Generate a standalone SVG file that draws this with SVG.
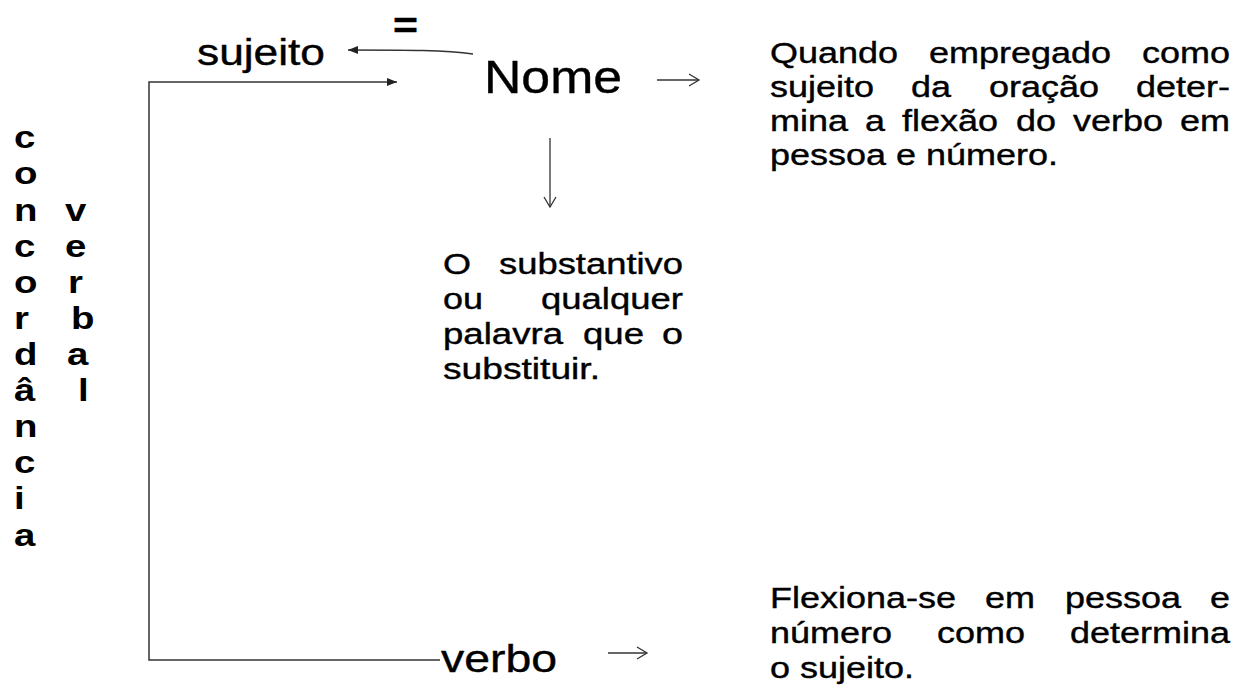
<svg xmlns="http://www.w3.org/2000/svg" width="1237" height="699" viewBox="0 0 1237 699">
<style>
  .t { font-family: "Liberation Sans", Arial, sans-serif; fill: #000; stroke: #000; stroke-width: 0.4; }
  .b { font-family: "Liberation Sans", Arial, sans-serif; font-weight: bold; font-size: 32px; fill: #000; }
  .body { font-size: 30px; }
  .conn { fill: none; stroke: #333; stroke-width: 1.5; }
  .thin { fill: none; stroke: #333; stroke-width: 1.3; }
</style>
<defs>
  <marker id="fill" markerUnits="userSpaceOnUse" markerWidth="12" markerHeight="10" refX="10" refY="4" orient="auto">
    <path d="M0,0 L10,4 L0,8 Z" fill="#222"/>
  </marker>
  <marker id="open" markerUnits="userSpaceOnUse" markerWidth="14" markerHeight="14" refX="11" refY="7" orient="auto">
    <path d="M1,1 L11,7 L1,13" fill="none" stroke="#333" stroke-width="1.3"/>
  </marker>
</defs>
<rect width="1237" height="699" fill="#fff"/>

<g id="connectors">
  <path class="conn" d="M440,660 L149,660 L149,82 L397,82" marker-end="url(#fill)"/>
  <path class="conn" d="M473,54 C445,50 410,50 348,50" marker-end="url(#fill)"/>
  <path class="thin" d="M657,80 L699,80" marker-end="url(#open)"/>
  <path class="thin" d="M550,138 L550,207" marker-end="url(#open)"/>
  <path class="thin" d="M608,653 L647,653" marker-end="url(#open)"/>
</g>

<g id="concordancia">
  <g transform="translate(14,0) scale(1.2,1)">
    <text class="b" x="0" y="148">c</text>
    <text class="b" x="0" y="184">o</text>
    <text class="b" x="0" y="221">n</text>
    <text class="b" x="0" y="257">c</text>
    <text class="b" x="0" y="293">o</text>
    <text class="b" x="0" y="329">r</text>
    <text class="b" x="0" y="365">d</text>
    <text class="b" x="0" y="401">â</text>
    <text class="b" x="0" y="437">n</text>
    <text class="b" x="0" y="473">c</text>
    <text class="b" x="0" y="509">i</text>
    <text class="b" x="0" y="546">a</text>
  </g>
</g>
<g id="verbal">
  <text class="b" x="65" y="221" transform="translate(65,0) scale(1.2,1) translate(-65,0)">v</text>
  <text class="b" x="65" y="257" transform="translate(65,0) scale(1.2,1) translate(-65,0)">e</text>
  <text class="b" x="68" y="293" transform="translate(68,0) scale(1.2,1) translate(-68,0)">r</text>
  <text class="b" x="71" y="329" transform="translate(71,0) scale(1.2,1) translate(-71,0)">b</text>
  <text class="b" x="67" y="365" transform="translate(67,0) scale(1.2,1) translate(-67,0)">a</text>
  <text class="b" x="78" y="401" transform="translate(78,0) scale(1.2,1) translate(-78,0)">l</text>
</g>

<g id="igual">
  <text class="t" x="393" y="38" font-size="36" font-weight="bold" textLength="25" lengthAdjust="spacingAndGlyphs">=</text>
</g>
<g id="sujeito">
  <text class="t" x="197" y="65" font-size="36" textLength="128" lengthAdjust="spacingAndGlyphs">sujeito</text>
</g>
<g id="nome">
  <text class="t" x="484" y="93" font-size="46" textLength="138" lengthAdjust="spacingAndGlyphs">Nome</text>
</g>
<g id="verbo">
  <text class="t" x="441" y="672" font-size="39" textLength="116" lengthAdjust="spacingAndGlyphs">verbo</text>
</g>

<g id="substantivo" class="t body">
  <text x="443" y="274" textLength="28" lengthAdjust="spacingAndGlyphs">O</text>
  <text x="499" y="274" textLength="184" lengthAdjust="spacingAndGlyphs">substantivo</text>
  <text x="443" y="309" textLength="40" lengthAdjust="spacingAndGlyphs">ou</text>
  <text x="541" y="309" textLength="142" lengthAdjust="spacingAndGlyphs">qualquer</text>
  <text x="443" y="344" textLength="120" lengthAdjust="spacingAndGlyphs">palavra</text>
  <text x="583" y="344" textLength="61" lengthAdjust="spacingAndGlyphs">que</text>
  <text x="662" y="344" textLength="21" lengthAdjust="spacingAndGlyphs">o</text>
  <text x="443" y="379" textLength="157" lengthAdjust="spacingAndGlyphs">substituir.</text>
</g>

<g id="nome-desc" class="t body">
  <text x="770" y="63" textLength="128" lengthAdjust="spacingAndGlyphs">Quando</text>
  <text x="929" y="63" textLength="182" lengthAdjust="spacingAndGlyphs">empregado</text>
  <text x="1142" y="63" textLength="88" lengthAdjust="spacingAndGlyphs">como</text>
  <text x="770" y="97" textLength="104" lengthAdjust="spacingAndGlyphs">sujeito</text>
  <text x="911" y="97" textLength="40" lengthAdjust="spacingAndGlyphs">da</text>
  <text x="989" y="97" textLength="110" lengthAdjust="spacingAndGlyphs">oração</text>
  <text x="1136" y="97" textLength="94" lengthAdjust="spacingAndGlyphs">deter-</text>
  <text x="770" y="131" textLength="78" lengthAdjust="spacingAndGlyphs">mina</text>
  <text x="865" y="131" textLength="20" lengthAdjust="spacingAndGlyphs">a</text>
  <text x="902" y="131" textLength="96" lengthAdjust="spacingAndGlyphs">flexão</text>
  <text x="1016" y="131" textLength="40" lengthAdjust="spacingAndGlyphs">do</text>
  <text x="1073" y="131" textLength="90" lengthAdjust="spacingAndGlyphs">verbo</text>
  <text x="1180" y="131" textLength="50" lengthAdjust="spacingAndGlyphs">em</text>
  <text x="770" y="165" textLength="288" lengthAdjust="spacingAndGlyphs">pessoa e número.</text>
</g>

<g id="verbo-desc" class="t body">
  <text x="770" y="608" textLength="186" lengthAdjust="spacingAndGlyphs">Flexiona-se</text>
  <text x="985" y="608" textLength="50" lengthAdjust="spacingAndGlyphs">em</text>
  <text x="1065" y="608" textLength="116" lengthAdjust="spacingAndGlyphs">pessoa</text>
  <text x="1210" y="608" textLength="20" lengthAdjust="spacingAndGlyphs">e</text>
  <text x="770" y="643" textLength="122" lengthAdjust="spacingAndGlyphs">número</text>
  <text x="937" y="643" textLength="88" lengthAdjust="spacingAndGlyphs">como</text>
  <text x="1070" y="643" textLength="160" lengthAdjust="spacingAndGlyphs">determina</text>
  <text x="770" y="678" textLength="144" lengthAdjust="spacingAndGlyphs">o sujeito.</text>
</g>
</svg>
